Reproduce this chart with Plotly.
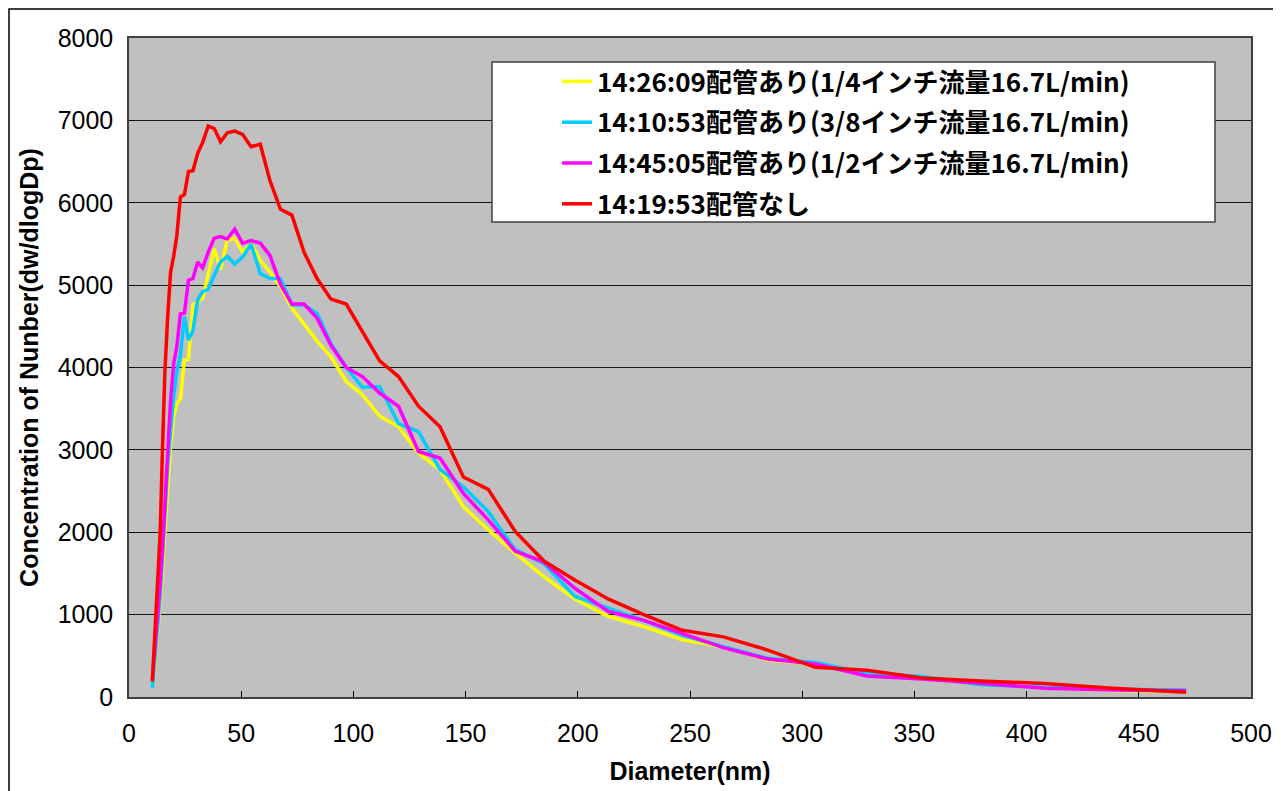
import plotly.graph_objects as go

# Particle diameters (nm)
diameter = [10.4, 11.2, 12.0, 12.9, 13.9, 14.9, 16.0, 17.2, 18.5, 19.9, 21.3, 22.9, 24.7, 26.5,
            28.5, 30.6, 32.8, 35.3, 38.0, 40.8, 43.8, 47.1, 50.6, 54.4, 58.5, 62.8, 67.5, 72.6,
            78.0, 83.8, 90.0, 96.8, 104.0, 111.7, 120.1, 129.0, 138.6, 149.0, 160.1, 172.1, 184.9,
            198.7, 213.5, 229.4, 246.6, 264.9, 284.7, 305.9, 328.8, 353.3, 379.7, 408.0, 438.4, 471.1]

series_names = [
    "14:26:09配管あり(1/4インチ流量16.7L/min)",
    "14:10:53配管あり(3/8インチ流量16.7L/min)",
    "14:45:05配管あり(1/2インチ流量16.7L/min)",
    "14:19:53配管なし",
]

yellow_1_4 = [140, 300, 550, 820, 1150, 1550, 2050, 2600, 3050, 3400, 3560, 3620, 4090, 4100,
              4760, 4800, 4840, 5130, 5440, 5190, 5550, 5570, 5400, 5510, 5300, 5160, 4980, 4720,
              4520, 4320, 4130, 3830, 3670, 3410, 3280, 2960, 2760, 2310, 2030, 1745, 1460,
              1190, 980, 855, 695, 610, 450, 400, 288, 230, 160, 110, 80, 70]

cyan_3_8 = [110, 330, 620, 900, 1250, 1650, 2200, 2800, 3250, 3650, 3950, 4150, 4620, 4330,
            4450, 4820, 4920, 4950, 5120, 5280, 5350, 5255, 5340, 5500, 5140, 5080, 5080, 4760,
            4760, 4660, 4290, 4000, 3760, 3770, 3320, 3220, 2760, 2550, 2250, 1790, 1620,
            1220, 1080, 930, 750, 610, 470, 420, 290, 250, 150, 117, 93, 85]

magenta_1_2 = [200, 450, 750, 1000, 1380, 1800, 2400, 3050, 3580, 4050, 4250, 4650, 4660, 5060,
               5080, 5280, 5210, 5400, 5570, 5590, 5560, 5680, 5510, 5540, 5510, 5360, 5010, 4770,
               4770, 4600, 4270, 4000, 3890, 3690, 3530, 2980, 2900, 2470, 2150, 1770, 1640,
               1320, 1040, 930, 770, 600, 460, 400, 255, 218, 166, 105, 85, 77]

red_none = [190, 600, 1000, 1450, 2000, 3000, 3950, 4600, 5150, 5350, 5600, 6070, 6100, 6380,
            6390, 6600, 6730, 6930, 6900, 6740, 6850, 6870, 6830, 6680, 6710, 6270, 5920, 5850,
            5400, 5080, 4830, 4770, 4430, 4080, 3890, 3530, 3280, 2670, 2520, 2010, 1650,
            1420, 1190, 1000, 810, 730, 570, 360, 325, 230, 195, 165, 105, 57]

colors = ["#FFFF00", "#00CCFF", "#FF00FF", "#FF0000"]
all_series = [yellow_1_4, cyan_3_8, magenta_1_2, red_none]

x_ticks = [0, 50, 100, 150, 200, 250, 300, 350, 400, 450, 500]
y_ticks = [0, 1000, 2000, 3000, 4000, 5000, 6000, 7000, 8000]

fig = go.Figure()
for i, (name, vals, col) in enumerate(zip(series_names, all_series, colors)):
    fig.add_trace(go.Scatter(
        x=diameter, y=vals, mode="lines", name=name,
        line=dict(color=col, width=3.5),
        legendgroup=f"g{i}",
    ))

# page offset of the figure inside the browser (body margin)
OFF = 8
W, H = 1281, 791
L, T = 129 - OFF, 38 - OFF
pw, ph = 1122, 659
R = W - L - pw
B = H - T - ph


def px_x(p):
    # page pixel -> paper coordinate
    return (p - OFF - L) / pw


def px_y(p):
    return (T + ph - (p - OFF)) / ph


tick_font = dict(family="Liberation Sans, Arial, sans-serif", size=25, color="black")
title_font = dict(family="Liberation Sans, Arial, sans-serif", size=25, color="black", weight="bold")

fig.update_layout(
    width=W, height=H,
    margin=dict(l=L, r=R, t=T, b=B, autoexpand=False),
    paper_bgcolor="white",
    plot_bgcolor="#C0C0C0",
    showlegend=True,
    legend=dict(
        x=px_x(557), y=px_y(58), xanchor="left", yanchor="top",
        bgcolor="rgba(0,0,0,0)", borderwidth=0,
        font=dict(family="Noto Sans CJK JP", size=26, color="black", weight="bold"),
        traceorder="grouped", tracegroupgap=4,
    ),
    xaxis=dict(
        range=[0, 500], tickvals=x_ticks, ticks="inside", ticklen=6, tickcolor="black",
        showgrid=False, zeroline=False, showline=True, linecolor="#404040", linewidth=1.5,
        mirror=True, tickfont=tick_font, ticklabelstandoff=13,
        title=dict(text="Diameter(nm)", font=title_font, standoff=17),
    ),
    yaxis=dict(
        range=[0, 8000], tickvals=y_ticks, ticks="inside", ticklen=6, tickcolor="black",
        showgrid=True, gridcolor="#1a1a1a", gridwidth=1.3, zeroline=False,
        showline=True, linecolor="#404040", linewidth=1.5, mirror=True,
        tickfont=tick_font, ticklabelstandoff=9,
        title=dict(text="Concentration of Nunber(dw/dlogDp)", font=title_font, standoff=12),
    ),
    shapes=[
        dict(type="rect", xref="paper", yref="paper",
             x0=px_x(492), x1=px_x(1215), y0=px_y(222), y1=px_y(62),
             fillcolor="white", line=dict(color="#404040", width=1.5), layer="above"),
        dict(type="rect", xref="paper", yref="paper",
             x0=px_x(OFF + 1), x1=px_x(1276), y0=px_y(796), y1=px_y(OFF + 1),
             fillcolor="rgba(0,0,0,0)", line=dict(color="black", width=1.5), layer="above"),
    ],
)

fig.write_html("out.html")
